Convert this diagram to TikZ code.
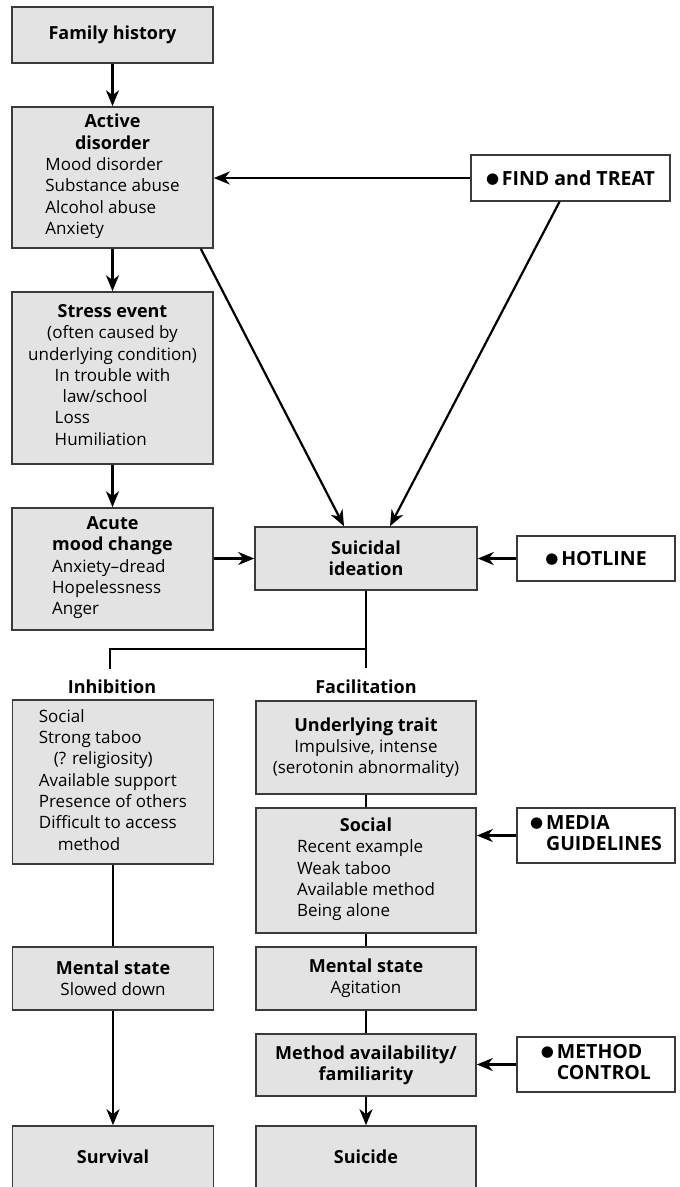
\documentclass[tikz,border=0pt]{standalone}
\usepackage{fontspec}
\setmainfont{Open Sans}
\newfontfamily\symfont{DejaVu Sans}
\usetikzlibrary{arrows.meta,calc}
\definecolor{boxfill}{HTML}{E3E3E3}
\definecolor{boxline}{HTML}{3A3A3A}
% bullet in front of each intervention
\newcommand{\dotmark}{\raisebox{2pt}{\symfont\fontsize{15}{15}\selectfont ●}}
% bold heading text
\newcommand{\hd}[1]{{\fontsize{18}{21.3}\selectfont\bfseries #1}}
% capitals of the intervention boxes
\newcommand{\capsword}[1]{{\fontsize{19.5}{21.3}\selectfont\bfseries #1}}
\begin{document}
\begin{tikzpicture}[x=1pt,y=-1pt,
  font=\fontsize{17}{21.3}\selectfont,
  box/.style={draw=boxline, line width=1.6pt, fill=boxfill, inner sep=0pt, align=center},
  actbox/.style={draw=boxline, line width=1.6pt, fill=white, inner sep=0pt, align=center},
  conn/.style={line width=2.2pt, draw=black},
  arr/.style={conn, -{Stealth[length=16pt,width=13pt,inset=5pt]}}
]
\useasboundingbox (0,0) rectangle (680,1187);
\clip (0,0) rectangle (680,1187);

% left column: causes leading to ideation
\node[box, minimum width=201pt, minimum height=56pt] (fam) at (112.5,35) {\hd{Family history}};
\node[box, minimum width=201pt, minimum height=141pt] (act) at (112.5,177.5)
  {\hd{Active}\\\hd{disorder}\\\begin{tabular}[t]{@{}l@{}}Mood disorder\\Substance abuse\\Alcohol abuse\\Anxiety\end{tabular}};
\node[box, minimum width=201pt, minimum height=172pt] (stress) at (112.5,378)
  {\hd{Stress event}\\(often caused by\\underlying condition)\\\begin{tabular}[t]{@{}l@{}}In trouble with\\\hspace{8pt}law/school\\Loss\\Humiliation\end{tabular}};
\node[box, minimum width=201pt, minimum height=122pt] (acute) at (112.5,569)
  {\hd{Acute}\\\begin{tabular}[t]{@{}l@{}}\hd{mood change}\\Anxiety--dread\\Hopelessness\\Anger\end{tabular}};

% ideation and interventions
\node[box, minimum width=222pt, minimum height=63pt] (sui) at (366,558.5) {\hd{Suicidal}\\\hd{ideation}};
\node[actbox, minimum width=199pt, minimum height=46pt] (find) at (570.5,178) {\dotmark\,\capsword{FIND and TREAT}};
\node[actbox, minimum width=158pt, minimum height=45pt] (hot) at (596,558.5) {\dotmark\,\capsword{HOTLINE}};

% branch labels
\node (inhlab) at (112,687) {\hd{Inhibition}};
\node (faclab) at (366,687) {\hd{Facilitation}};
\coordinate (fork) at (366,649);
\coordinate (forkL) at (110,649);
\coordinate (facilEnd) at (366,668);
\coordinate (inhibEnd) at (110,669);

% inhibition branch
\node[box, minimum width=201pt, minimum height=164pt] (inhib) at (113,782)
  {\begin{tabular}[t]{@{}l@{}}Social\\Strong taboo\\\hspace{15pt}(? religiosity)\\Available support\\Presence of others\\Difficult to access\\\hspace{19pt}method\end{tabular}};
\node[box, minimum width=201pt, minimum height=63pt] (msL) at (113,978.5) {\hd{Mental state}\\Slowed down};
\node[box, minimum width=201pt, minimum height=62pt] (surv) at (113,1157) {\hd{Survival}};

% facilitation branch
\node[box, minimum width=220pt, minimum height=93pt] (trait) at (366,747.5)
  {\hd{Underlying trait}\\Impulsive, intense\\(serotonin abnormality)};
\node[box, minimum width=220pt, minimum height=125pt] (social) at (366,870.5)
  {\hd{Social}\\\begin{tabular}[t]{@{}l@{}}Recent example\\Weak taboo\\Available method\\Being alone\end{tabular}};
\node[actbox, minimum width=158pt, minimum height=55pt] (media) at (596,835.5)
  {\begin{tabular}{@{}l@{}l@{}}\dotmark\, & \capsword{MEDIA}\\ & \capsword{GUIDELINES}\end{tabular}};
\node[box, minimum width=220pt, minimum height=63pt] (msR) at (366,978.5) {\hd{Mental state}\\Agitation};
\node[box, minimum width=220pt, minimum height=62pt] (meth) at (366,1065) {\hd{Method availability/}\\\hd{familiarity}};
\node[actbox, minimum width=158pt, minimum height=55pt] (mctl) at (596,1064.5)
  {\begin{tabular}{@{}l@{}l@{}}\dotmark\, & \capsword{METHOD}\\ & \capsword{CONTROL}\end{tabular}};
\node[box, minimum width=220pt, minimum height=62pt] (suic) at (366,1157) {\hd{Suicide}};

% connectors
\draw[arr] (fam.south) -- (act.north);
\draw[arr] (act.south) -- (stress.north);
\draw[arr] (stress.south) -- (acute.north);
\draw[arr] (acute.east |- sui.west) -- (sui.west);
\draw[arr] (find.west) -- (act.east |- find.west);
\draw[arr] ($(act.south east)+(-13,0)$) -- ($(sui.north)+(-22,0)$);
\draw[arr] ($(find.south)+(-11,0)$) -- ($(sui.north)+(24,0)$);
\draw[arr] (hot.west) -- (sui.east |- hot.west);
\draw[conn] (sui.south) -- (facilEnd);
\draw[conn] (fork) -- (forkL) -- (inhibEnd);
\draw[conn] (trait.south) -- (social.north);
\draw[arr] (media.west) -- (social.east |- media.west);
\draw[conn] (social.south) -- (msR.north);
\draw[conn] (inhib.south) -- (msL.north);
\draw[arr] (msL.south) -- (surv.north);
\draw[conn] (msR.south) -- (meth.north);
\draw[arr] (mctl.west) -- (meth.east |- mctl.west);
\draw[arr] (meth.south) -- (suic.north);
\end{tikzpicture}
\end{document}
